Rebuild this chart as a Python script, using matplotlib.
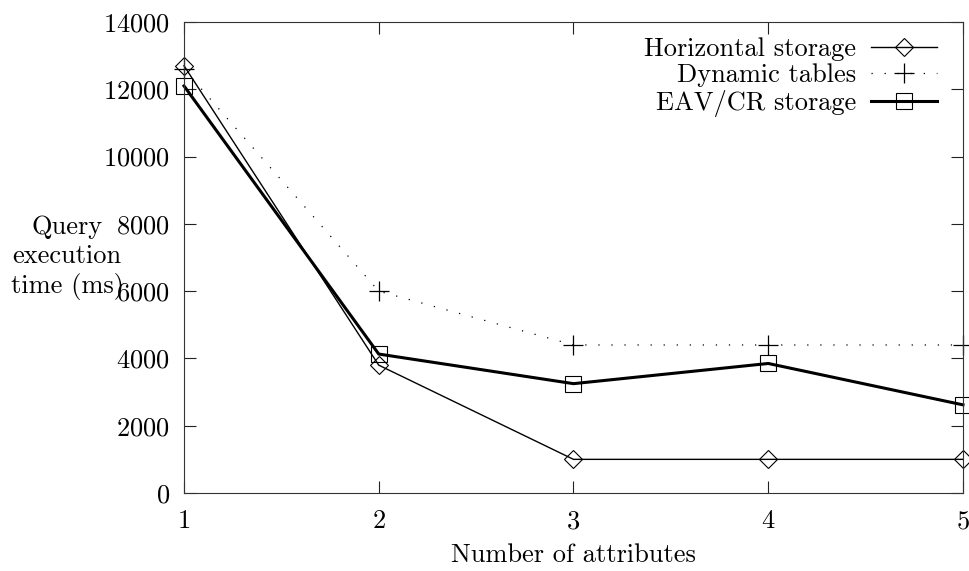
import matplotlib
matplotlib.use("Agg")
import matplotlib.pyplot as plt

attributes = [1, 2, 3, 4, 5]
horizontal = [12700, 3800, 1000, 1000, 1000]
dynamic = [12600, 6000, 4400, 4400, 4400]
eav = [12100, 4130, 3250, 3850, 2620]
yticks = [0, 2000, 4000, 6000, 8000, 10000, 12000, 14000]

plt.rcParams['font.family'] = ['cmr10', 'DejaVu Serif']
plt.rcParams['axes.formatter.use_mathtext'] = True
plt.rcParams['lines.scale_dashes'] = False

fig = plt.figure(figsize=(9.7, 5.71), dpi=100)
ax = fig.add_axes([184/970, 1-493/571, (963-184)/970, (493-22)/571])

fs = 19
ax.plot(attributes, horizontal, color='black', lw=1.0, marker='D', ms=9.5,
        mfc='none', mec='black', mew=0.8, clip_on=False, label='Horizontal storage')
ax.plot(attributes, dynamic, color='black', lw=0.9, linestyle=(0, (0.9, 8.5)),
        marker='+', ms=14, mew=0.9, clip_on=False, label='Dynamic tables')
ax.plot(attributes, eav, color='black', lw=2.2, marker='s', ms=11.5,
        mfc='none', mec='black', mew=0.8, clip_on=False, label='EAV/CR storage')

ax.set_xlim(1, 5)
ax.set_ylim(0, 14000)
ax.set_xticks(attributes)
ax.set_yticks(yticks)
ax.tick_params(direction='in', length=8.5, width=0.8, top=True, right=True,
               labelsize=fs, color='#222222')
ax.tick_params(axis='x', pad=12)
ax.tick_params(axis='y', pad=10)
for s in ax.spines.values():
    s.set_linewidth(0.8)
    s.set_color('#333333')

ax.set_xlabel('Number of attributes', fontsize=fs)
ax.xaxis.set_label_coords(0.5, -0.132)
ax.xaxis.label.set_va('center')
ax.set_ylabel('Query\nexecution\ntime (ms)', fontsize=fs, rotation=0,
              ha='center', va='center', multialignment='center', linespacing=1.25)
ax.yaxis.set_label_coords(-0.150, 0.5)

leg = ax.legend(loc='upper right', bbox_to_anchor=(0.9666, 0.968), frameon=False,
                markerfirst=False, fontsize=fs, borderpad=0, borderaxespad=0,
                handlelength=2.5, handletextpad=0.55, labelspacing=0.1)
for t in leg.get_texts():
    t.set_ha('right')

fig.savefig('out.png', dpi=100)
